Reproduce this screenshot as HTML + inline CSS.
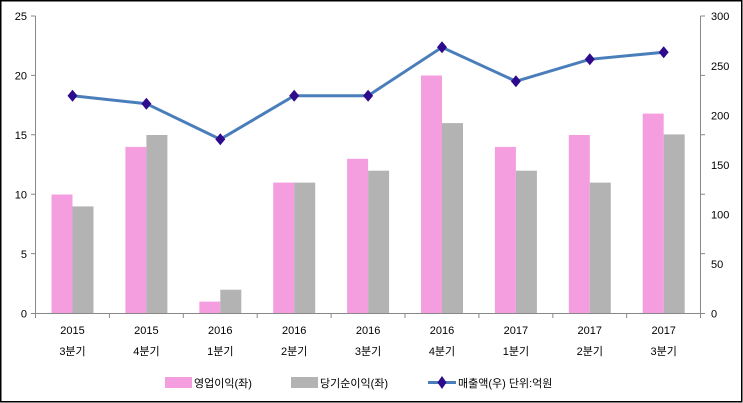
<!DOCTYPE html>
<html><head><meta charset="utf-8"><style>
html,body{margin:0;padding:0;background:#fff}
svg{display:block}
text{font-family:"Liberation Sans","Noto Sans CJK KR",sans-serif;font-size:11px;fill:#000}
</style></head><body>
<svg width="743" height="403" xmlns="http://www.w3.org/2000/svg">
<rect x="0.75" y="0.75" width="741" height="401" fill="#fff" stroke="#000" stroke-width="1.5"/>
<g fill="#f49ee0">
<rect x="51.5" y="194.5" width="21" height="119"/>
<rect x="125.4" y="146.9" width="21" height="166.6"/>
<rect x="199.3" y="301.6" width="21" height="11.9"/>
<rect x="273.2" y="182.6" width="21" height="130.9"/>
<rect x="347.1" y="158.8" width="21" height="154.7"/>
<rect x="421" y="75.5" width="21" height="238"/>
<rect x="494.9" y="146.9" width="21" height="166.6"/>
<rect x="568.8" y="135" width="21" height="178.5"/>
<rect x="642.7" y="113.6" width="21" height="199.9"/>
</g>
<g fill="#b3b3b3">
<rect x="72.5" y="206.4" width="21" height="107.1"/>
<rect x="146.4" y="135" width="21" height="178.5"/>
<rect x="220.3" y="289.7" width="21" height="23.8"/>
<rect x="294.2" y="182.6" width="21" height="130.9"/>
<rect x="368.1" y="170.7" width="21" height="142.8"/>
<rect x="442" y="123.1" width="21" height="190.4"/>
<rect x="515.9" y="170.7" width="21" height="142.8"/>
<rect x="589.8" y="182.6" width="21" height="130.9"/>
<rect x="663.7" y="134.4" width="21" height="179.1"/>
</g>
<g stroke="#888" stroke-width="1" fill="none">
<path d="M35.5 16V313.5M31 16H35.5M31 75.4H35.5M31 134.8H35.5M31 194.2H35.5M31 253.6H35.5M31 313.5H35.5"/>
<path d="M700.5 16V313.5M700.5 16H705M700.5 75.4H705M700.5 134.8H705M700.5 194.2H705M700.5 253.6H705M700.5 313.5H705"/>
<path d="M35.5 313.5H700.5"/>
<path d="M35.5 313.5V318M109.4 313.5V318M183.3 313.5V318M257.2 313.5V318M331.1 313.5V318M405 313.5V318M478.9 313.5V318M552.8 313.5V318M626.7 313.5V318M700.5 313.5V318"/>
</g>
<g text-anchor="end">
<text x="27" y="20">25</text><text x="27" y="79.5">20</text><text x="27" y="139">15</text><text x="27" y="198.5">10</text><text x="27" y="258">5</text><text x="27" y="317.5">0</text>
</g>
<g>
<text x="711" y="20">300</text><text x="711" y="70">250</text><text x="711" y="119.5">200</text><text x="711" y="169">150</text><text x="711" y="218.5">100</text><text x="711" y="268">50</text><text x="711" y="317.5">0</text>
</g>
<g text-anchor="middle">
<text x="72.5" y="334">2015</text><text x="146.4" y="334">2015</text><text x="220.3" y="334">2016</text><text x="294.2" y="334">2016</text><text x="368.1" y="334">2016</text><text x="442" y="334">2016</text><text x="515.9" y="334">2017</text><text x="589.8" y="334">2017</text><text x="663.7" y="334">2017</text>
<text x="72.5" y="355">3분기</text><text x="146.4" y="355">4분기</text><text x="220.3" y="355">1분기</text><text x="294.2" y="355">2분기</text><text x="368.1" y="355">3분기</text><text x="442" y="355">4분기</text><text x="515.9" y="355">1분기</text><text x="589.8" y="355">2분기</text><text x="663.7" y="355">3분기</text>
</g>
<polyline points="72.5,95.7 146.4,103.7 220.3,139.3 294.2,95.7 368.1,95.7 442,47.3 515.9,81.3 589.8,59.3 663.7,52.3" fill="none" stroke="#4a7ebb" stroke-width="3"/>
<g fill="#2e0a8c">
<path d="M72.5 89.7l5 6-5 6-5-6z"/>
<path d="M146.4 97.7l5 6-5 6-5-6z"/>
<path d="M220.3 133.3l5 6-5 6-5-6z"/>
<path d="M294.2 89.7l5 6-5 6-5-6z"/>
<path d="M368.1 89.7l5 6-5 6-5-6z"/>
<path d="M442 41.3l5 6-5 6-5-6z"/>
<path d="M515.9 75.3l5 6-5 6-5-6z"/>
<path d="M589.8 53.3l5 6-5 6-5-6z"/>
<path d="M663.7 46.3l5 6-5 6-5-6z"/>
</g>
<rect x="165" y="377" width="27" height="11" fill="#f49ee0"/>
<text x="194" y="387">영업이익(좌)</text>
<rect x="291" y="377" width="27" height="11" fill="#b3b3b3"/>
<text x="320" y="387">당기순이익(좌)</text>
<line x1="428" y1="382.5" x2="456" y2="382.5" stroke="#4a7ebb" stroke-width="3"/>
<path d="M442 376L446.5 382.5L442 389L437.5 382.5Z" fill="#2e0a8c"/>
<text x="458" y="387">매출액(우)  단위:억원</text>
</svg>
</body></html>
